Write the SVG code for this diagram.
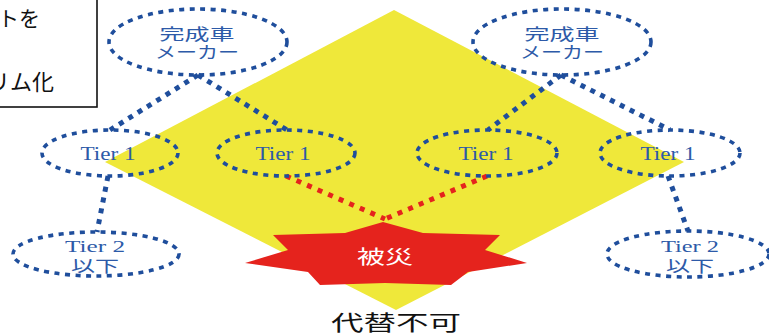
<svg xmlns="http://www.w3.org/2000/svg" width="769" height="334" viewBox="0 0 769 334">
<style>
.ell{fill:none;stroke:#1F4E9C;stroke-width:3.6;stroke-dasharray:5 5.5}
.con{fill:none;stroke:#1F4E9C;stroke-width:5;stroke-dasharray:5 6}
.red{fill:none;stroke:#E5231D;stroke-width:5;stroke-dasharray:5 6.5}
.jp{font-family:"Noto Sans CJK JP","Noto Sans CJK SC",sans-serif;fill:#2D5AA8;text-anchor:middle}
.tier{font-family:"Liberation Serif","Times New Roman",serif;fill:#2D5AA8;text-anchor:middle}
.blk{font-family:"Noto Sans CJK JP","Noto Sans CJK SC",sans-serif;fill:#111}
</style>
<rect width="769" height="334" fill="#fff"/>
<g id="background">
<polygon points="394,10 684,162 396,310 105,162" fill="#EFE83A"/>
</g>
<g id="note">
<rect x="-5" y="-5" width="102" height="112" fill="#fff" stroke="#111" stroke-width="1.6"/>
<text class="blk" x="-2" y="26" font-size="21">トを</text>
<text class="blk" x="-12" y="90" font-size="22">リム化</text>
</g>
<g id="hisai">
<polygon points="383,222 423,233 500,235 485,250 527,263 468,272 451,285 385,283 320,285 308,272 245,263 288,250 273,235 345,233" fill="#E5231D"/>
<text class="jp" x="385" y="264" font-size="19" style="fill:#fff" textLength="56" lengthAdjust="spacingAndGlyphs">被災</text>
</g>
<g id="connectors">
<line class="con" x1="198" y1="75" x2="110" y2="130"/>
<line class="con" x1="198" y1="75" x2="287" y2="130"/>
<line class="con" x1="561" y1="75" x2="488" y2="130"/>
<line class="con" x1="561" y1="75" x2="670" y2="130"/>
<line class="con" x1="108" y1="176" x2="97" y2="232"/>
<line class="con" x1="668" y1="176" x2="688" y2="231"/>
<line class="red" x1="286" y1="176" x2="385" y2="219"/>
<line class="red" x1="487" y1="176" x2="385" y2="219"/>
</g>
<g id="maker-left">
<ellipse class="ell" cx="198" cy="42" rx="89" ry="33"/>
<text class="jp" x="197" y="40" font-size="16" textLength="75" lengthAdjust="spacingAndGlyphs">完成車</text>
<text class="jp" x="197" y="58" font-size="16" textLength="84" lengthAdjust="spacingAndGlyphs">メーカー</text>
</g>
<g id="maker-right">
<ellipse class="ell" cx="562" cy="42" rx="89" ry="33"/>
<text class="jp" x="562" y="40" font-size="16" textLength="75" lengthAdjust="spacingAndGlyphs">完成車</text>
<text class="jp" x="562" y="58" font-size="16" textLength="84" lengthAdjust="spacingAndGlyphs">メーカー</text>
</g>
<g id="tier1-a">
<ellipse class="ell" cx="110" cy="153" rx="68" ry="23"/>
<text class="tier" x="108" y="160" font-size="18" textLength="55" lengthAdjust="spacingAndGlyphs">Tier 1</text>
</g>
<g id="tier1-b">
<ellipse class="ell" cx="286" cy="153" rx="69" ry="23"/>
<text class="tier" x="283" y="160" font-size="18" textLength="55" lengthAdjust="spacingAndGlyphs">Tier 1</text>
</g>
<g id="tier1-c">
<ellipse class="ell" cx="487" cy="153" rx="70" ry="23"/>
<text class="tier" x="486" y="160" font-size="18" textLength="55" lengthAdjust="spacingAndGlyphs">Tier 1</text>
</g>
<g id="tier1-d">
<ellipse class="ell" cx="670" cy="153" rx="70" ry="23"/>
<text class="tier" x="668" y="160" font-size="18" textLength="55" lengthAdjust="spacingAndGlyphs">Tier 1</text>
</g>
<g id="tier2-left">
<ellipse class="ell" cx="96" cy="254" rx="83" ry="22"/>
<text class="tier" x="95" y="252" font-size="17" textLength="60" lengthAdjust="spacingAndGlyphs">Tier 2</text>
<text class="jp" x="95" y="272" font-size="16" textLength="48" lengthAdjust="spacingAndGlyphs">以下</text>
</g>
<g id="tier2-right">
<ellipse class="ell" cx="688" cy="254" rx="81" ry="23"/>
<text class="tier" x="690" y="252" font-size="17" textLength="58" lengthAdjust="spacingAndGlyphs">Tier 2</text>
<text class="jp" x="690" y="272" font-size="16" textLength="48" lengthAdjust="spacingAndGlyphs">以下</text>
</g>
<g id="label-daitai">
<text class="blk" x="396" y="330" font-size="21" text-anchor="middle" textLength="130" lengthAdjust="spacingAndGlyphs">代替不可</text>
</g>
</svg>
